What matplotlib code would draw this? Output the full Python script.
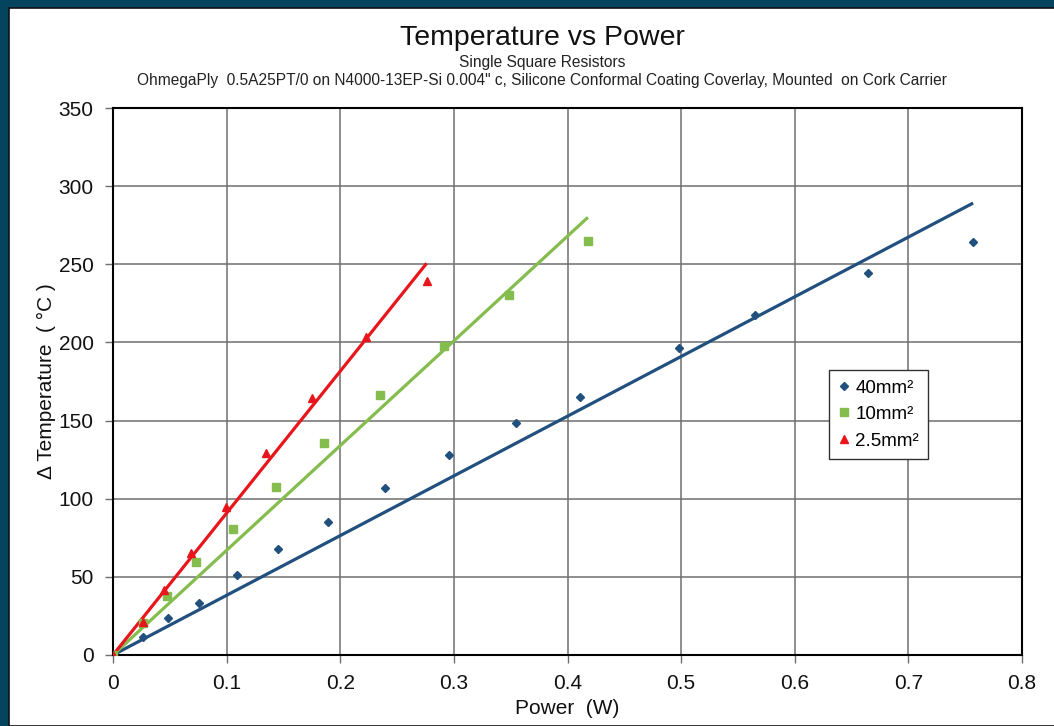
import numpy as np
import matplotlib
matplotlib.use("Agg")
import matplotlib.pyplot as plt
from matplotlib.patches import Rectangle

# data
power_40 = [0, 0.026, 0.0487, 0.0754, 0.109, 0.1455, 0.1895, 0.2394, 0.2958,
            0.3545, 0.411, 0.498, 0.565, 0.6646, 0.757]
temp_40 = [0, 11.7, 23.5, 33.5, 51.2, 67.6, 84.9, 106.8, 128.0,
           148.6, 165.3, 196.2, 217.5, 244.2, 264.2]

power_10 = [0, 0.026, 0.0473, 0.0733, 0.106, 0.1432, 0.186, 0.235, 0.2917,
            0.3483, 0.418]
temp_10 = [0, 20.7, 38.0, 59.3, 80.4, 107.7, 135.9, 166.4, 197.9, 230.5, 265.1]

power_25 = [0, 0.026, 0.045, 0.0687, 0.0995, 0.135, 0.175, 0.2227, 0.276]
temp_25 = [0, 21.0, 41.6, 65.0, 94.9, 129.0, 164.2, 203.5, 239.3]

# trend line slopes (deg C per W, through origin)
slope_40 = 382.0
slope_10 = 670.0
slope_25 = 908.0

labels = ["40mm\u00b2", "10mm\u00b2", "2.5mm\u00b2"]
x_ticks = [0, 0.1, 0.2, 0.3, 0.4, 0.5, 0.6, 0.7, 0.8]
y_ticks = [0, 50, 100, 150, 200, 250, 300, 350]

blue = "#22507e"
green = "#84bd4e"
red = "#e8161c"

plt.rcParams['font.family'] = ['Liberation Sans', 'DejaVu Sans']

fig = plt.figure(figsize=(10.54, 7.26), dpi=100, facecolor="#05445f")
# white panel with thin dark edge, kept behind the axes
fig.patches.append(Rectangle((9 / 1054, 0), 1.1, 1 - 8 / 726, transform=fig.transFigure,
                             facecolor="white", edgecolor="#111111", linewidth=1.2,
                             zorder=-10))

ax = fig.add_axes([113 / 1054, 1 - 655 / 726, 909 / 1054, 547 / 726])
ax.set_zorder(5)
ax.set_facecolor("white")

for px, py, slope, c in [(power_40, temp_40, slope_40, blue),
                         (power_10, temp_10, slope_10, green),
                         (power_25, temp_25, slope_25, red)]:
    xx = np.array([0, max(px)])
    ax.plot(xx, slope * xx, color=c, linewidth=2.3, zorder=3, solid_capstyle='butt')

ax.plot(power_40, temp_40, linestyle='none', marker='D', markersize=4.5, color=blue,
        label=labels[0], zorder=4)
ax.plot(power_10, temp_10, linestyle='none', marker='s', markersize=5.5, color=green,
        label=labels[1], zorder=4)
ax.plot(power_25, temp_25, linestyle='none', marker='^', markersize=6, color=red,
        label=labels[2], zorder=4)

ax.set_xlim(0, 0.8)
ax.set_ylim(0, 350)
ax.set_xticks(x_ticks)
ax.set_xticklabels([f"{v:g}" for v in x_ticks])
ax.set_yticks(y_ticks)
ax.grid(True, color="#6f6f6f", linewidth=1.1)
ax.set_axisbelow(True)
for s in ax.spines.values():
    s.set_color("black")
    s.set_linewidth(1.5)
ax.tick_params(axis='both', direction='out', length=6, width=1, color="#6f6f6f",
               labelsize=15, labelcolor="#111111", pad=8)

ax.set_xlabel("Power  (W)", fontsize=15, color="#111111", labelpad=4)
ax.set_ylabel("\u0394 Temperature  ( \u00b0C )", fontsize=15, color="#111111", labelpad=2)

fig.text(542 / 1054, 1 - 38 / 726, "Temperature vs Power", ha='center', va='center',
         fontsize=20.5, color="#111111")
fig.text(542 / 1054, 1 - 62 / 726, "Single Square Resistors", ha='center', va='center',
         fontsize=11.2, color="#222222")
fig.text(542 / 1054, 1 - 80 / 726,
         "OhmegaPly  0.5A25PT/0 on N4000-13EP-Si 0.004\" c, Silicone Conformal Coating "
         "Coverlay, Mounted  on Cork Carrier",
         ha='center', va='center', fontsize=11.2, color="#222222")

leg = ax.legend(loc='upper left', bbox_to_anchor=(0.7877, 0.521), fontsize=13.5,
                frameon=True, fancybox=False, edgecolor="#333333", framealpha=1,
                handlelength=0.6, handletextpad=0.3, borderpad=0.5, labelspacing=0.5,
                borderaxespad=0)
leg.get_frame().set_linewidth(1.0)

fig.savefig("out.png", dpi=100, facecolor=fig.get_facecolor())
